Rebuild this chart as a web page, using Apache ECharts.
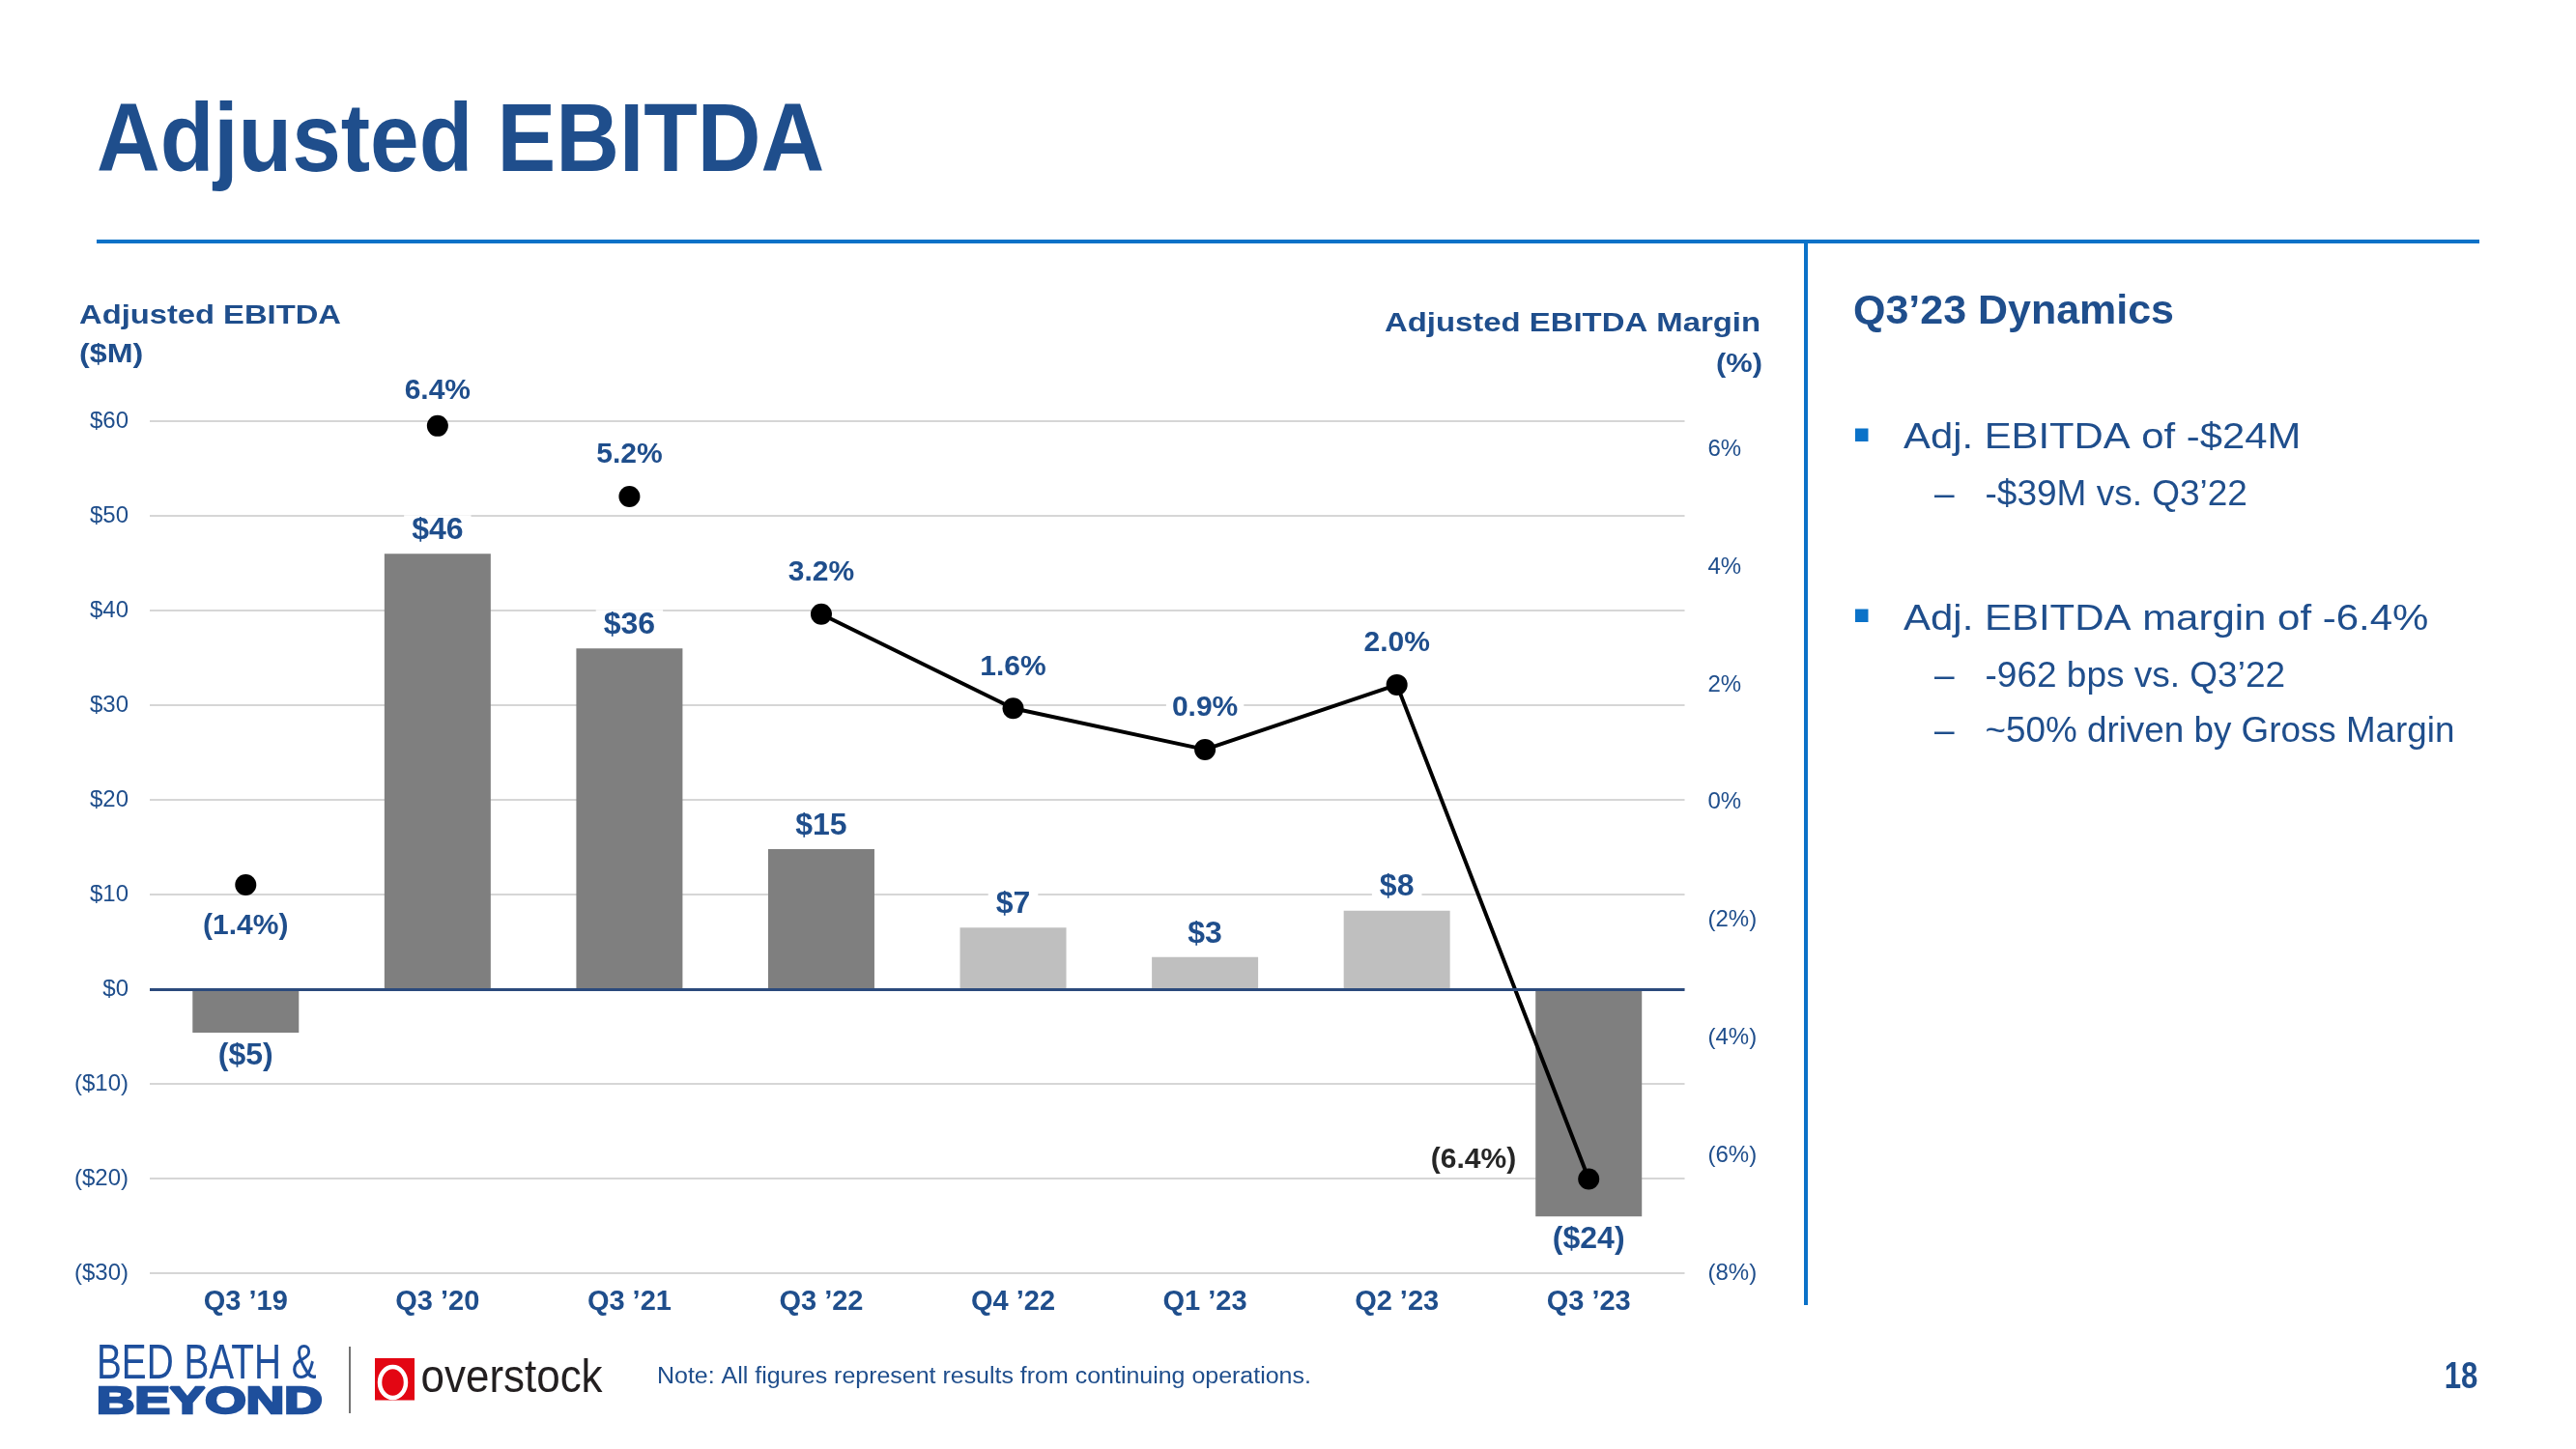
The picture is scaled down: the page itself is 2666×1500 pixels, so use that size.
<!DOCTYPE html>
<html><head><meta charset="utf-8">
<script src="https://cdn.jsdelivr.net/npm/echarts@6/dist/echarts.min.js"></script>
<style>html,body{margin:0;padding:0;background:#fff}#c{width:2666px;height:1500px}</style>
</head><body><div id="c"></div>
<script>
// ---- data ----
const categories = ['Q3 ’19', 'Q3 ’20', 'Q3 ’21', 'Q3 ’22', 'Q4 ’22', 'Q1 ’23', 'Q2 ’23', 'Q3 ’23'];
const ebitda = [-4.6, 46.0, 36.0, 14.8, 6.5, 3.4, 8.3, -24.0];      // $M
const margin = [-1.4, 6.4, 5.2, 3.2, 1.6, 0.9, 2.0, -6.4];          // %
const leftAxisRange = [-30, 60];
const leftAxisStep = 10;
const rightAxisRange = [-8, 6.48];
const rightAxisStep = 2;
const lightBarIdx = [4, 5, 6];
const connectedFrom = 3;   // margins from this index on are joined by a line

// ---- styles ----
const BLUE = '#1F4E8C';
const BRIGHT = '#0B72C8';
const FONT = '"Liberation Sans", Arial, Helvetica, sans-serif';

const barData = ebitda.map((v, i) => ({
  value: v,
  itemStyle: { color: lightBarIdx.includes(i) ? '#BFBFBF' : '#7F7F7F' },
  label: { position: v < 0 ? 'bottom' : 'top' }
}));

const fmtMoney = v => v < 0 ? '($' + Math.round(-v) + ')' : '$' + Math.round(v);
const fmtPct = v => v < 0 ? '(' + (-v).toFixed(1) + '%)' : v.toFixed(1) + '%';

const dotData = margin.map((v, i) => {
  if (i >= connectedFrom) return '-';
  if (i === 0) return { value: v, label: { position: 'bottom', distance: 17 } };
  if (i === 1) return { value: v, label: { distance: 10 } };
  return v;
});
const lineData = margin.map((v, i) => {
  if (i < connectedFrom) return '-';
  if (i === margin.length - 1) return { value: v, label: { position: 'left', distance: 58, offset: [0, -20], color: '#262626', backgroundColor: 'transparent' } };
  return v;
});

const pctLabel = {
  show: true, position: 'top', distance: 17,
  formatter: p => fmtPct(p.value),
  fontFamily: FONT, fontSize: 30, fontWeight: 'bold', color: BLUE,
  backgroundColor: '#fff', padding: [0, 6], opacity: 1
};

function txt(x, y, text, font, fill, scaleX, align, extra) {
  return Object.assign({
    type: 'text', x: x, y: y, scaleX: scaleX || 1, silent: true, z: 100,
    style: Object.assign({
      text: text, x: 0, y: 0, font: font, fill: fill,
      align: align || 'left', verticalAlign: 'middle',
      textAlign: align || 'left', textVerticalAlign: 'middle'
    }, extra || {})
  });
}

const graphics = [
  // title + rules
  txt(100, 149, 'Adjusted EBITDA', 'bold 100px ' + FONT, BLUE, 0.91),
  { type: 'line', silent: true, shape: { x1: 100, y1: 250, x2: 2566, y2: 250 }, style: { stroke: BRIGHT, lineWidth: 4 } },
  { type: 'line', silent: true, shape: { x1: 1869, y1: 250, x2: 1869, y2: 1351 }, style: { stroke: BRIGHT, lineWidth: 4 } },
  // axis titles
  txt(82, 327, 'Adjusted EBITDA', 'bold 28px ' + FONT, BLUE, 1.169),
  txt(82, 367, '($M)', 'bold 28px ' + FONT, BLUE, 1.15),
  txt(1822, 335, 'Adjusted EBITDA Margin', 'bold 28px ' + FONT, BLUE, 1.174, 'right'),
  txt(1824, 377, '(%)', 'bold 28px ' + FONT, BLUE, 1.1, 'right'),
  // right panel
  txt(1918, 323.5, 'Q3’23 Dynamics', 'bold 42px ' + FONT, BLUE, 1.023),
  { type: 'rect', silent: true, shape: { x: 1920, y: 443.5, width: 13.5, height: 13.5 }, style: { fill: BRIGHT } },
  txt(1970, 454, 'Adj. EBITDA of -$24M', '37px ' + FONT, BLUE, 1.13),
  txt(2002, 513, '–', '37px ' + FONT, BLUE, 1),
  txt(2054.5, 513.2, '-$39M vs. Q3’22', '37px ' + FONT, BLUE, 1),
  { type: 'rect', silent: true, shape: { x: 1920, y: 630.5, width: 13.5, height: 13.5 }, style: { fill: BRIGHT } },
  txt(1970, 641.4, 'Adj. EBITDA margin of -6.4%', '37px ' + FONT, BLUE, 1.134),
  txt(2002, 700.7, '–', '37px ' + FONT, BLUE, 1),
  txt(2054.5, 700.7, '-962 bps vs. Q3’22', '37px ' + FONT, BLUE, 1),
  txt(2002, 758.1, '–', '37px ' + FONT, BLUE, 1),
  txt(2054.5, 758.1, '~50% driven by Gross Margin', '37px ' + FONT, BLUE, 0.995),
  // footer logos
  txt(100, 1413.5, 'BED BATH &', '50px ' + FONT, '#1E4F9C', 0.775),
  txt(100, 1452, 'BEYOND', 'bold 39px ' + FONT, '#1E4F9C', 1.40, 'left', { stroke: '#1E4F9C', lineWidth: 2.5 }),
  { type: 'line', silent: true, shape: { x1: 362, y1: 1394, x2: 362, y2: 1463 }, style: { stroke: '#444', lineWidth: 1.5 } },
  { type: 'rect', silent: true, shape: { x: 388, y: 1406, width: 41, height: 43.5 }, style: { fill: '#E30613' } },
  { type: 'ellipse', silent: true, shape: { cx: 406.5, cy: 1431, rx: 13.5, ry: 16 }, style: { fill: 'none', stroke: '#fff', lineWidth: 4.5 }, z: 101 },
  txt(435.6, 1428, 'overstock', '48px ' + FONT, '#231F20', 0.915),
  txt(680, 1425.6, 'Note: All figures represent results from continuing operations.', '23px ' + FONT, BLUE, 1.085),
  txt(2564.4, 1426.2, '18', 'bold 39px ' + FONT, BLUE, 0.8, 'right')
];

const chart = echarts.init(document.getElementById('c'), null, { renderer: 'canvas' });
chart.setOption({
  animation: false,
  backgroundColor: '#fff',
  textStyle: { fontFamily: FONT },
  grid: { left: 155, right: 922.5, top: 436, bottom: 182, containLabel: false },
  xAxis: {
    type: 'category', data: categories,
    axisLine: { show: false }, axisTick: { show: false },
    axisLabel: { margin: 15, fontSize: 29, fontWeight: 'bold', color: BLUE, fontFamily: FONT }
  },
  yAxis: [
    {
      type: 'value', min: leftAxisRange[0], max: leftAxisRange[1], interval: leftAxisStep,
      axisLine: { show: false }, axisTick: { show: false },
      splitLine: { lineStyle: { color: '#C8C8C8', width: 1.5 } },
      axisLabel: { margin: 22, fontSize: 24, color: BLUE, fontFamily: FONT, formatter: v => v < 0 ? '($' + (-v) + ')' : '$' + v }
    },
    {
      type: 'value', position: 'right', min: rightAxisRange[0], max: rightAxisRange[1], interval: rightAxisStep,
      axisLine: { show: false }, axisTick: { show: false }, splitLine: { show: false },
      axisLabel: { margin: 24, fontSize: 24, color: BLUE, fontFamily: FONT, showMaxLabel: false,
        formatter: v => v < 0 ? '(' + (-v) + '%)' : v + '%' }
    }
  ],
  series: [
    {
      type: 'bar', data: barData, barWidth: 110, yAxisIndex: 0, z: 2,
      label: { show: true, distance: 8, formatter: p => fmtMoney(p.value), fontFamily: FONT, fontSize: 32, fontWeight: 'bold', color: BLUE, backgroundColor: '#fff', padding: [0, 8] },
      markLine: { silent: true, symbol: 'none', label: { show: false }, lineStyle: { color: '#2B4A7C', width: 3, type: 'solid' }, data: [{ yAxis: 0 }] }
    },
    {
      type: 'scatter', data: dotData, yAxisIndex: 1, symbol: 'circle', symbolSize: 22, z: 4,
      itemStyle: { color: '#000', opacity: 1 }, label: pctLabel,
      emphasis: { disabled: true }
    },
    {
      type: 'line', data: lineData, yAxisIndex: 1, symbol: 'circle', symbolSize: 22, showAllSymbol: true, z: 4,
      lineStyle: { color: '#000', width: 4 }, itemStyle: { color: '#000', opacity: 1 }, label: pctLabel
    }
  ],
  graphic: graphics
});
</script></body></html>
